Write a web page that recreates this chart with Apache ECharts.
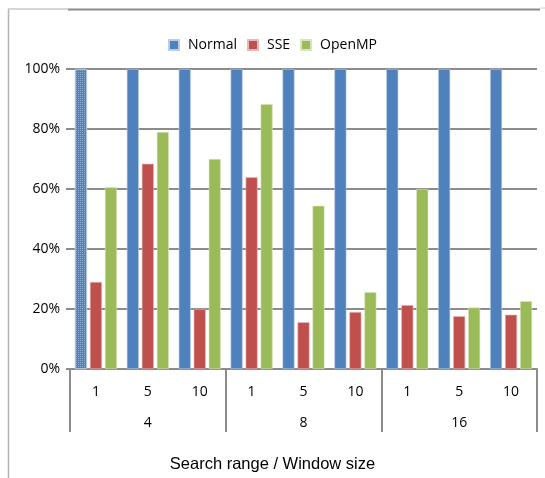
<!DOCTYPE html>
<html>
<head>
<meta charset="utf-8">
<script src="https://cdn.jsdelivr.net/npm/echarts@6/dist/echarts.min.js"></script>
<style>
  html, body { margin: 0; padding: 0; background: #fff; }
  #chart { width: 545px; height: 478px; }
</style>
</head>
<body>
<div id="chart"></div>
<script>
// Window sizes within each search range, and the search ranges themselves
const windowSizes = ['1', '5', '10', '1', '5', '10', '1', '5', '10'];
const searchRanges = ['4', '8', '16'];

// Relative run time (%) of each implementation
const normalValues = [100, 100, 100, 100, 100, 100, 100, 100, 100];
const sseValues    = [29, 68.4, 20, 63.9, 15.6, 19, 21.3, 17.6, 18.1];
const openmpValues = [60.6, 79, 70, 88.3, 54.4, 25.6, 60, 20.5, 22.6];

const yTicks = [0, 20, 40, 60, 80, 100];

const seriesNames = ['Normal', 'SSE', 'OpenMP'];
const seriesColors = ['#4F81BD', '#C0504D', '#9BBB59'];
const seriesBorders = ['#B9CDE5', '#E6B9B8', '#D7E4BD'];

const chart = echarts.init(document.getElementById('chart'), null, { renderer: 'canvas' });

const labelFont = '"Open Sans", "Noto Sans", sans-serif';

function barSeries(idx, values) {
  const data = values.map((v, i) => {
    if (idx === 0 && i === 0) {
      return {
        value: v,
        itemStyle: {
          decal: {
            symbol: 'rect',
            symbolSize: 1,
            dashArrayX: [1, 1],
            dashArrayY: [1, 1],
            color: 'rgba(255,255,255,0.35)'
          }
        }
      };
    }
    return v;
  });
  return {
    name: seriesNames[idx],
    type: 'bar',
    xAxisIndex: 0,
    yAxisIndex: 0,
    barWidth: 12,
    barGap: '25%',
    itemStyle: {
      color: seriesColors[idx],
      borderColor: seriesBorders[idx],
      borderWidth: 0.6
    },
    emphasis: { disabled: true },
    data: data
  };
}

chart.setOption({
  animation: false,
  backgroundColor: '#fff',
  title: {
    text: 'Search range / Window size',
    left: 'center',
    top: 451,
    textStyle: {
      fontFamily: '"Liberation Sans", Arial, sans-serif',
      fontSize: 16.5,
      fontWeight: 'normal',
      color: '#000'
    }
  },
  legend: {
    top: 33,
    left: 'center',
    itemWidth: 10,
    itemHeight: 10,
    itemGap: 10,
    icon: 'rect',
    textStyle: { fontFamily: labelFont, fontSize: 14, color: '#000', padding: [0, 0, 0, 4] },
    data: seriesNames
  },
  grid: { left: 70, right: 8, top: 69, bottom: 109, containLabel: false },
  xAxis: [
    {
      type: 'category',
      data: windowSizes,
      position: 'bottom',
      axisLine: { show: true, lineStyle: { color: '#8C8C8C', width: 2 } },
      axisTick: { show: false },
      axisLabel: {
        interval: 0,
        margin: 16,
        fontFamily: labelFont,
        fontSize: 14,
        color: '#000'
      },
      splitLine: { show: false }
    },
    {
      type: 'category',
      data: searchRanges,
      position: 'bottom',
      axisLine: { show: false },
      axisTick: {
        show: true,
        length: 63,
        alignWithLabel: false,
        lineStyle: { color: '#8C8C8C', width: 2 }
      },
      axisLabel: {
        interval: 0,
        margin: 47,
        fontFamily: labelFont,
        fontSize: 14,
        color: '#000'
      },
      splitLine: { show: false }
    }
  ],
  yAxis: {
    type: 'value',
    min: yTicks[0],
    max: yTicks[yTicks.length - 1],
    interval: 20,
    axisLine: { show: false },
    axisTick: { show: true, length: 4, lineStyle: { color: '#8C8C8C', width: 2 } },
    axisLabel: {
      formatter: '{value}%',
      margin: 10,
      fontFamily: labelFont,
      fontSize: 14,
      color: '#000'
    },
    splitLine: { show: true, lineStyle: { color: '#8C8C8C', width: 2 } }
  },
  series: [
    barSeries(0, normalValues),
    barSeries(1, sseValues),
    barSeries(2, openmpValues)
  ],
  graphic: [
    // chart frame edges
    { type: 'line', shape: { x1: 8.5, y1: 9, x2: 8.5, y2: 478 }, style: { stroke: '#B4B4B4', lineWidth: 1.5 }, silent: true },
    { type: 'line', shape: { x1: 8, y1: 9, x2: 68, y2: 9 }, style: { stroke: '#C8C8C8', lineWidth: 1.5 }, silent: true },
    { type: 'line', shape: { x1: 68, y1: 9.5, x2: 540, y2: 9.5 }, style: { stroke: '#8C8C8C', lineWidth: 2 }, silent: true },
    { type: 'line', shape: { x1: 540, y1: 8, x2: 545, y2: 8 }, style: { stroke: '#D0D0D0', lineWidth: 1 }, silent: true }
  ]
});
</script>
</body>
</html>
